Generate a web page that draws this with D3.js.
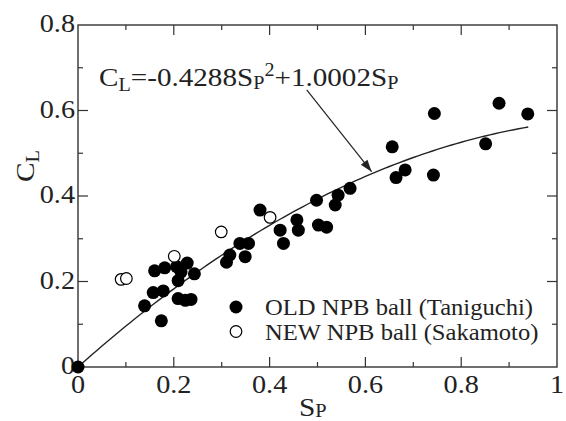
<!DOCTYPE html>
<html>
<head>
<meta charset="utf-8">
<script src="https://cdn.jsdelivr.net/npm/d3@7"></script>
<style>
  html, body { margin: 0; padding: 0; background: #fff; }
  svg { display: block; font-family: "Liberation Serif", "Times New Roman", serif; }
</style>
</head>
<body>
<svg id="chart" width="566" height="421"></svg>
<script>
// ── Data ──────────────────────────────────────────────────
const oldX = [0, 0.139, 0.174, 0.157, 0.178, 0.160, 0.181, 0.206, 0.228, 0.243,
              0.209, 0.215, 0.209, 0.224, 0.236, 0.310, 0.317, 0.338, 0.356, 0.349,
              0.380, 0.422, 0.429, 0.457, 0.460, 0.498, 0.502, 0.519, 0.537, 0.543,
              0.568, 0.656, 0.664, 0.683, 0.744, 0.742, 0.851, 0.879, 0.939];
const oldY = [0, 0.143, 0.108, 0.174, 0.178, 0.225, 0.232, 0.235, 0.243, 0.218,
              0.202, 0.222, 0.160, 0.156, 0.158, 0.245, 0.262, 0.289, 0.289, 0.258,
              0.367, 0.320, 0.289, 0.344, 0.320, 0.390, 0.332, 0.327, 0.379, 0.402,
              0.418, 0.515, 0.443, 0.461, 0.593, 0.449, 0.522, 0.617, 0.592];

const newX = [0.090, 0.101, 0.201, 0.299, 0.401];
const newY = [0.205, 0.207, 0.259, 0.316, 0.350];

// fitted curve C_L = a*Sp^2 + b*Sp, drawn over the printed range
const fitCoef  = [-0.4288, 1.0002];
const fitRange = [0, 0.94];

const xTicks = [0, 0.2, 0.4, 0.6, 0.8, 1];
const yTicks = [0, 0.2, 0.4, 0.6, 0.8];
const xMinor = [0.1, 0.3, 0.5, 0.7, 0.9];
const yMinor = [0.1, 0.3, 0.5, 0.7];

const legendLabels = ['OLD NPB ball (Taniguchi)', 'NEW NPB ball (Sakamoto)'];

// ── Layout ────────────────────────────────────────────────
const svg = d3.select('#chart');
const L = 78, R = 557, T = 25, B = 367;

const x = d3.scaleLinear().domain([0, 1]).range([L, R]);
const y = d3.scaleLinear().domain([0, 0.8]).range([B, T]);

const fmt = d => d === 0 ? '0' : d === 1 ? '1' : d3.format('.1f')(d);
const INK = '#222';

// the original face is a wide Century-like serif: stretch Liberation Serif a bit
const SX = 1.13;
function stext(parent, px, py, size, anchor, sx = SX) {
  return parent.append('text')
    .attr('transform', `translate(${px},${py}) scale(${sx},1)`)
    .attr('font-size', size).attr('fill', INK)
    .attr('text-anchor', anchor || 'start');
}

// Frame
svg.append('rect')
  .attr('x', L).attr('y', T).attr('width', R - L).attr('height', B - T)
  .attr('fill', 'none').attr('stroke', '#333').attr('stroke-width', 1.4);

// Inward ticks on all four sides
const tickG = svg.append('g').attr('stroke', '#333').attr('stroke-width', 1.2);
function xTickMarks(vals, len) {
  vals.forEach(v => {
    tickG.append('line').attr('x1', x(v)).attr('x2', x(v)).attr('y1', B).attr('y2', B - len);
    tickG.append('line').attr('x1', x(v)).attr('x2', x(v)).attr('y1', T).attr('y2', T + len);
  });
}
function yTickMarks(vals, len) {
  vals.forEach(v => {
    tickG.append('line').attr('y1', y(v)).attr('y2', y(v)).attr('x1', L).attr('x2', L + len);
    tickG.append('line').attr('y1', y(v)).attr('y2', y(v)).attr('x1', R).attr('x2', R - len);
  });
}
xTickMarks(xTicks.slice(1, -1), 10);
xTickMarks(xMinor, 5);
yTickMarks(yTicks.slice(1, -1), 10);
yTickMarks(yMinor, 5);

// Tick labels
const xl = svg.append('g');
xTicks.forEach(d => stext(xl, x(d), B + 26, 25, 'middle').text(fmt(d)));
const yl = svg.append('g');
yTicks.forEach(d => stext(yl, L - 3, y(d) + 7, 25, 'end').text(fmt(d)));

// Axis titles
const xt = stext(svg, x(0.49), 416, 26, 'middle');
xt.append('tspan').text('S');
xt.append('tspan').attr('font-size', 18).attr('dy', 1).text('P');

const yt = svg.append('text')
  .attr('transform', `translate(34,${y(0.47)}) rotate(-90) scale(${SX},1)`)
  .attr('text-anchor', 'middle').attr('font-size', 26).attr('fill', INK);
yt.append('tspan').text('C');
yt.append('tspan').attr('font-size', 18).attr('dy', 5).text('L');

// Fitted curve
const fit = s => fitCoef[0] * s * s + fitCoef[1] * s;
const curveX = d3.range(fitRange[0], fitRange[1] + 1e-9, 0.01);
svg.append('path')
  .datum(curveX)
  .attr('fill', 'none').attr('stroke', '#222').attr('stroke-width', 1.4)
  .attr('d', d3.line().x(d => x(d)).y(d => y(fit(d))));

// Points
svg.append('g').selectAll('circle').data(oldX).join('circle')
  .attr('cx', d => x(d)).attr('cy', (d, i) => y(oldY[i])).attr('r', 6.5)
  .attr('fill', '#000');

svg.append('g').selectAll('circle').data(newX).join('circle')
  .attr('cx', d => x(d)).attr('cy', (d, i) => y(newY[i])).attr('r', 5.8)
  .attr('fill', '#fff').attr('stroke', '#000').attr('stroke-width', 1.2);

// Equation and arrow
const eq = stext(svg, x(0.044), y(0.657), 26, 'start', 1.12);
eq.append('tspan').text('C');
eq.append('tspan').attr('font-size', 18).attr('dy', 5).text('L');
eq.append('tspan').attr('dy', -5).text('=-0.4288S');
eq.append('tspan').attr('font-size', 18).attr('dy', 3).text('P');
eq.append('tspan').attr('font-size', 18).attr('dy', -13).text('2');
eq.append('tspan').attr('dy', 10).text('+1.0002S');
eq.append('tspan').attr('font-size', 18).attr('dy', 3).text('P');

const defs = svg.append('defs');
defs.append('marker').attr('id', 'arrow')
  .attr('viewBox', '0 0 10 10').attr('refX', 10).attr('refY', 5)
  .attr('markerWidth', 14).attr('markerHeight', 12).attr('markerUnits', 'userSpaceOnUse')
  .attr('orient', 'auto')
  .append('path').attr('d', 'M0,1.5 L10,5 L0,8.5 Z').attr('fill', '#222');

svg.append('line')
  .attr('x1', x(0.4775)).attr('y1', y(0.648))
  .attr('x2', x(0.613)).attr('y2', y(0.457))
  .attr('stroke', '#222').attr('stroke-width', 1.2)
  .attr('marker-end', 'url(#arrow)');

// Legend
const lg = svg.append('g');
legendLabels.forEach((lab, i) => {
  const cy = 307 + i * 24.5;
  lg.append('circle').attr('cx', 236).attr('cy', cy)
    .attr('r', i === 0 ? 6.5 : 5.8)
    .attr('fill', i === 0 ? '#000' : '#fff')
    .attr('stroke', '#000').attr('stroke-width', i === 0 ? 0 : 1.2);
  stext(lg, 265, cy + 8, 23, 'start', 1.07).text(lab);
});
</script>
</body>
</html>
